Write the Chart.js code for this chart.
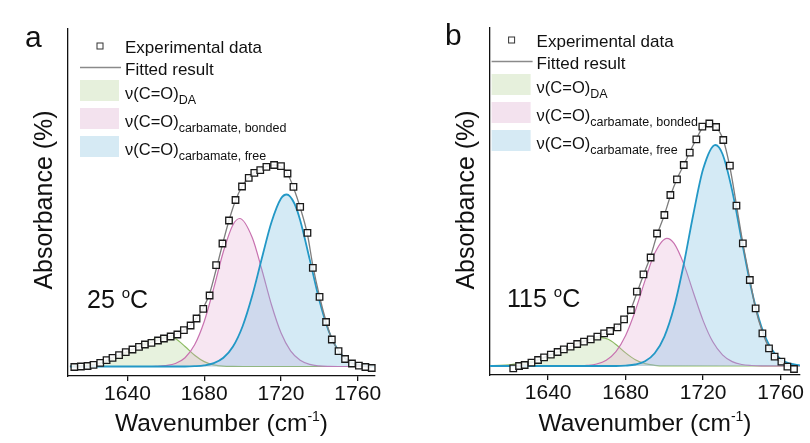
<!DOCTYPE html>
<html>
<head>
<meta charset="utf-8">
<script src="https://cdn.jsdelivr.net/npm/chart.js@4.4.1/dist/chart.umd.min.js"></script>
<style>
  html, body { margin: 0; padding: 0; background: #fff; }
  body { width: 810px; height: 443px; position: relative; overflow: hidden; }
  .panel { position: absolute; top: 0; height: 443px; }
  #pa { left: 0; width: 410px; }
  #pb { left: 410px; width: 400px; }
</style>
</head>
<body>
<div class="panel" id="pa"><canvas id="ca"></canvas></div>
<div class="panel" id="pb"><canvas id="cb"></canvas></div>
<script>
// tick labels on the wavenumber axis
const X_TICKS = [1640, 1680, 1720, 1760];

// ---- panel a, 25 C ----
const A_WN_EXP = [1612.3, 1615.7, 1619.2, 1622.3, 1625.8, 1629.1, 1632.2, 1635.6, 1639.1, 1642.6, 1646.0, 1649.1, 1652.5, 1655.9, 1659.0, 1662.5, 1666.0, 1669.4, 1672.9, 1676.0, 1679.5, 1682.8, 1686.2, 1689.5, 1692.9, 1696.3, 1699.7, 1703.2, 1706.1, 1709.2, 1712.4, 1716.4, 1720.0, 1723.4, 1726.5, 1730.0, 1733.8, 1736.6, 1740.1, 1743.5, 1746.5, 1750.0, 1753.4, 1757.0, 1760.6, 1764.0, 1767.3];
const A_EXP = [-0.5, 0, 0.5, 1.7, 3.7, 6.3, 8.7, 11.3, 14.3, 17, 19.7, 22, 23.7, 26, 28, 30, 32, 36.3, 41, 48, 57.7, 71, 101.3, 123, 146, 166.5, 180, 188.7, 193.7, 196.3, 199.7, 201.5, 200.3, 193, 179.7, 159.7, 133.7, 98.7, 69.7, 44.5, 27, 15.3, 7.5, 3, 0.8, -0.5, -1.5];
const A_FIT = [0, 0, 0.6, 1.6, 3.5, 6, 8.8, 11.5, 14.5, 17.2, 19.8, 22, 24.2, 26.3, 28.3, 30.5, 33, 36.5, 41.5, 48.5, 58.5, 73, 97, 122, 146, 166, 180, 189, 194, 197, 200, 201.5, 200, 193, 179, 159, 132, 101, 70, 45, 27.5, 15.5, 8, 3.2, 1, 0, -0.5];

const A_WN_DA = [1610, 1615, 1620, 1625, 1630, 1635, 1640, 1645, 1650, 1655, 1661, 1665, 1670, 1675, 1680, 1685, 1690, 1695, 1700, 1770];
const A_DA = [0.3, 0.8, 1.6, 3.2, 5.7, 9.3, 14, 19.3, 24.4, 28.2, 30, 27.7, 20, 11.3, 4.9, 1.7, 0.4, 0.1, 0, 0];

const A_WN_BONDED = [1610, 1650, 1655, 1660, 1665, 1670, 1675, 1680, 1685, 1690, 1695, 1698.5, 1705, 1710, 1715, 1720, 1725, 1730, 1735, 1740, 1745, 1750, 1770];
const A_BONDED = [0, 0, 0.2, 0.9, 3, 8.8, 21.7, 45, 78.6, 115, 141.8, 148, 129, 97, 62, 33.7, 15.6, 6.2, 2.1, 0.6, 0.1, 0, 0];

const A_WN_FREE = [1610, 1670, 1675, 1680, 1685, 1690, 1695, 1700, 1705, 1710, 1715, 1720, 1723, 1727, 1730, 1735, 1740, 1745, 1750, 1755, 1760, 1765, 1770];
const A_FREE = [0, 0, 0.3, 1.1, 3.3, 8.7, 20, 40.3, 70.7, 108, 144, 168, 172, 163, 146.3, 106.9, 66.2, 34.7, 15.5, 5.8, 1.9, 0.5, 0.1];

// ---- panel b, 115 C ----
const B_WN_EXP = [1622.0, 1625.0, 1627.9, 1631.4, 1634.8, 1637.9, 1641.4, 1644.9, 1648.1, 1651.6, 1655.0, 1658.5, 1662.0, 1665.4, 1668.9, 1672.0, 1675.8, 1679.2, 1682.7, 1685.8, 1689.2, 1692.9, 1696.2, 1700.0, 1703.1, 1706.5, 1710.0, 1713.1, 1716.5, 1719.6, 1723.2, 1726.7, 1730.4, 1733.8, 1737.2, 1740.5, 1744.1, 1747.1, 1750.6, 1754.0, 1756.9, 1760.4, 1763.5, 1766.9];
const B_EXP = [-2.3, 0, 1, 3.3, 6, 8.7, 11.3, 14, 16.7, 19.3, 22, 24.3, 26.7, 29.3, 32.7, 35, 38.7, 46.7, 56, 74.3, 91.7, 108.5, 132.5, 151, 171, 186.7, 201, 213.3, 226.7, 239.3, 242.5, 239, 226, 200.3, 160.3, 122.7, 86, 57.7, 32.7, 17.7, 9.3, 4.3, -0.7, -3];
const B_FIT = [0, 0.5, 1.5, 3.3, 6, 8.7, 11.3, 14, 16.7, 19.3, 22, 24.5, 27, 29.5, 32.5, 35.5, 39.5, 46, 57, 73, 91, 110, 131, 151, 170, 187, 201, 214, 227, 238, 242, 239, 226, 199, 161, 123, 87, 57, 34, 18, 9, 4, 1, 0];

const B_WN_DA = [1610, 1615, 1620, 1625, 1630, 1635, 1640, 1645, 1650, 1655, 1660, 1664, 1667.6, 1671, 1675, 1680, 1685, 1690, 1695, 1700, 1770];
const B_DA = [0.3, 0.6, 1.2, 2.3, 4, 6.5, 9.9, 14, 18.4, 22.7, 26.1, 27.8, 28.3, 26.7, 21.5, 13.1, 6.2, 2.3, 0.7, 0.1, 0];

const B_WN_BONDED = [1610, 1655, 1660, 1665, 1670, 1675, 1680, 1685, 1690, 1695, 1701.3, 1705, 1710, 1715, 1720, 1725, 1730, 1735, 1740, 1745, 1750, 1770];
const B_BONDED = [0, 0, 0.6, 2, 5.8, 14.4, 30.6, 55.3, 85.4, 112.7, 127.7, 122.6, 102.1, 73.3, 45.4, 24.2, 11.2, 4.4, 1.5, 0.5, 0.1, 0];

const B_WN_FREE = [1610, 1675, 1680, 1685, 1690, 1695, 1700, 1705, 1710, 1715, 1720, 1726.3, 1730, 1735, 1740, 1745, 1750, 1755, 1760, 1765, 1770];
const B_FREE = [0, 0, 0.4, 1.5, 4.7, 12.7, 29.4, 58.9, 101.8, 152.3, 196.9, 221, 212, 175.4, 124.7, 76, 39.8, 17.9, 6.9, 2.3, 0.7];

const FONT = '"Liberation Sans", Arial, Helvetica, sans-serif';

const GREEN_LINE = '#8dbb63', GREEN_FILL = 'rgba(170,210,135,0.28)', GREEN_BOX = '#e6f0dc';
const PINK_LINE = '#c872b0', PINK_FILL = 'rgba(225,160,205,0.26)', PINK_BOX = '#f3e2ee';
const BLUE_LINE = '#2398c6', BLUE_FILL = 'rgba(120,190,225,0.32)', BLUE_BOX = '#d6eaf4';

function pts(xs, ys) {
  return xs.map((x, i) => ({ x: x, y: ys[i] }));
}

function rich(ctx, x, y, parts) {
  parts.forEach(p => {
    ctx.font = p.size + 'px ' + FONT;
    ctx.fillText(p.t, x, y + (p.dy || 0));
    x += ctx.measureText(p.t).width;
  });
  return x;
}

function richWidth(ctx, parts) {
  let w = 0;
  parts.forEach(p => {
    ctx.font = p.size + 'px ' + FONT;
    w += ctx.measureText(p.t).width;
  });
  return w;
}

// letters, titles, temperature and legend, drawn over the chart
const overlay = {
  id: 'overlay',
  afterDraw(chart) {
    const s = chart.options.plugins.overlay;
    const ctx = chart.ctx;
    const o = s.off;
    const ca = chart.chartArea;
    ctx.save();
    ctx.fillStyle = '#111';
    ctx.textBaseline = 'alphabetic';
    ctx.textAlign = 'left';

    // panel letter
    rich(ctx, s.letterX - o, s.letterY, [{ t: s.letter, size: 30 }]);

    // y title
    ctx.save();
    ctx.translate(s.yTitleX - o, 200);
    ctx.rotate(-Math.PI / 2);
    ctx.textAlign = 'center';
    ctx.textBaseline = 'middle';
    ctx.font = '25px ' + FONT;
    ctx.fillText('Absorbance (%)', 0, 0);
    ctx.restore();

    // x title
    const xt = [{ t: 'Wavenumber (cm', size: 24.5 }, { t: '-1', size: 14, dy: -10 }, { t: ')', size: 24.5 }];
    const xw = richWidth(ctx, xt);
    rich(ctx, (ca.left + ca.right) / 2 - xw / 2, 431, xt);

    // temperature
    rich(ctx, s.tempX - o, s.tempY, [{ t: s.temp, size: 25 }, { t: 'o', size: 15, dy: -10 }, { t: 'C', size: 25 }]);

    // legend, laid out in panel-a coordinates then shifted
    const lx = s.legX - o, ly = s.legY;
    ctx.strokeStyle = '#333';
    ctx.lineWidth = 1;
    ctx.fillStyle = '#fff';
    ctx.fillRect(lx + 97, ly + 43, 6, 6);
    ctx.strokeRect(lx + 97, ly + 43, 6, 6);
    ctx.fillStyle = '#111';
    rich(ctx, lx + 125, ly + 52.5, [{ t: 'Experimental data', size: 17 }]);

    ctx.strokeStyle = '#8a8a8a';
    ctx.lineWidth = 1.5;
    ctx.beginPath();
    ctx.moveTo(lx + 80, ly + 67.5);
    ctx.lineTo(lx + 121, ly + 67.5);
    ctx.stroke();
    rich(ctx, lx + 125, ly + 74.5, [{ t: 'Fitted result', size: 17 }]);

    const rows = [
      { box: GREEN_BOX, top: 80, sub: 'DA' },
      { box: PINK_BOX, top: 108, sub: 'carbamate, bonded' },
      { box: BLUE_BOX, top: 136, sub: 'carbamate, free' }
    ];
    rows.forEach(r => {
      ctx.fillStyle = r.box;
      ctx.fillRect(lx + 80, ly + r.top, 39, 21);
      ctx.fillStyle = '#111';
      rich(ctx, lx + 125, ly + r.top + 19, [{ t: 'ν(C=O)', size: 16.5 }, { t: r.sub, size: 12.5, dy: 5 }]);
    });
    ctx.restore();
  }
};

function makePanel(id, d, s) {
  const comp = (xs, ys, line, fill, w, order) => ({
    data: pts(xs, ys),
    borderColor: line,
    backgroundColor: fill,
    borderWidth: w,
    fill: 'origin',
    pointRadius: 0,
    cubicInterpolationMode: 'monotone',
    order: order
  });
  return new Chart(document.getElementById(id), {
    type: 'line',
    data: {
      datasets: [
        comp(d.wnDa, d.da, GREEN_LINE, GREEN_FILL, 1.2, 4),
        comp(d.wnBonded, d.bonded, PINK_LINE, PINK_FILL, 1.2, 3),
        comp(d.wnFree, d.free, BLUE_LINE, BLUE_FILL, 1.8, 2),
        {
          data: pts(d.wnExp, d.fit),
          borderColor: '#7d7d7d',
          borderWidth: 1.3,
          fill: false,
          pointRadius: 0,
          cubicInterpolationMode: 'monotone',
          order: 1
        },
        {
          data: pts(d.wnExp, d.exp),
          showLine: false,
          pointStyle: 'rect',
          pointRadius: 4.6,
          pointBackgroundColor: 'rgba(255,255,255,0.85)',
          pointBorderColor: '#1a1a1a',
          pointBorderWidth: 1.3,
          clip: false,
          order: 0
        }
      ]
    },
    options: {
      responsive: true,
      maintainAspectRatio: false,
      animation: false,
      layout: { padding: { top: s.padTop, right: s.padRight, left: 0, bottom: 0 } },
      plugins: {
        legend: { display: false },
        tooltip: { enabled: false },
        overlay: s
      },
      scales: {
        x: {
          type: 'linear',
          min: s.xMin,
          max: s.xMax,
          afterBuildTicks: sc => { sc.ticks = X_TICKS.map(v => ({ value: v })); },
          afterFit: sc => { sc.height = s.xHeight; },
          ticks: {
            color: '#111',
            font: { family: FONT, size: 21 },
            padding: 1,
            maxRotation: 0,
            callback: v => String(v)
          },
          grid: { drawOnChartArea: false, drawTicks: true, tickLength: 5, color: '#111', lineWidth: 1.3 },
          border: { display: true, color: '#111', width: 1.3 }
        },
        y: {
          type: 'linear',
          min: s.yMin,
          max: s.yMax,
          afterFit: sc => { sc.width = s.yWidth; },
          ticks: { display: false },
          grid: { display: false },
          border: { display: true, color: '#111', width: 1.3 }
        }
      }
    },
    plugins: [overlay]
  });
}

makePanel('ca', {
  wnExp: A_WN_EXP, exp: A_EXP, fit: A_FIT,
  wnDa: A_WN_DA, da: A_DA,
  wnBonded: A_WN_BONDED, bonded: A_BONDED,
  wnFree: A_WN_FREE, free: A_FREE
}, {
  off: 0, xMin: 1609, xMax: 1769, yMin: -9.5, yMax: 337.5,
  yWidth: 68, xHeight: 67, padTop: 29, padRight: 35,
  letter: 'a', letterX: 25, letterY: 47, yTitleX: 45,
  temp: '25 ', tempX: 87, tempY: 308, legX: 0, legY: 0
});

makePanel('cb', {
  wnExp: B_WN_EXP, exp: B_EXP, fit: B_FIT,
  wnDa: B_WN_DA, da: B_DA,
  wnBonded: B_WN_BONDED, bonded: B_BONDED,
  wnFree: B_WN_FREE, free: B_FREE
}, {
  off: 410, xMin: 1610, xMax: 1770, yMin: -9, yMax: 338,
  yWidth: 80, xHeight: 68, padTop: 28, padRight: 10,
  letter: 'b', letterX: 445, letterY: 45, yTitleX: 467,
  temp: '115 ', tempX: 507, tempY: 307, legX: 411.6, legY: -6
});
</script>
</body>
</html>
